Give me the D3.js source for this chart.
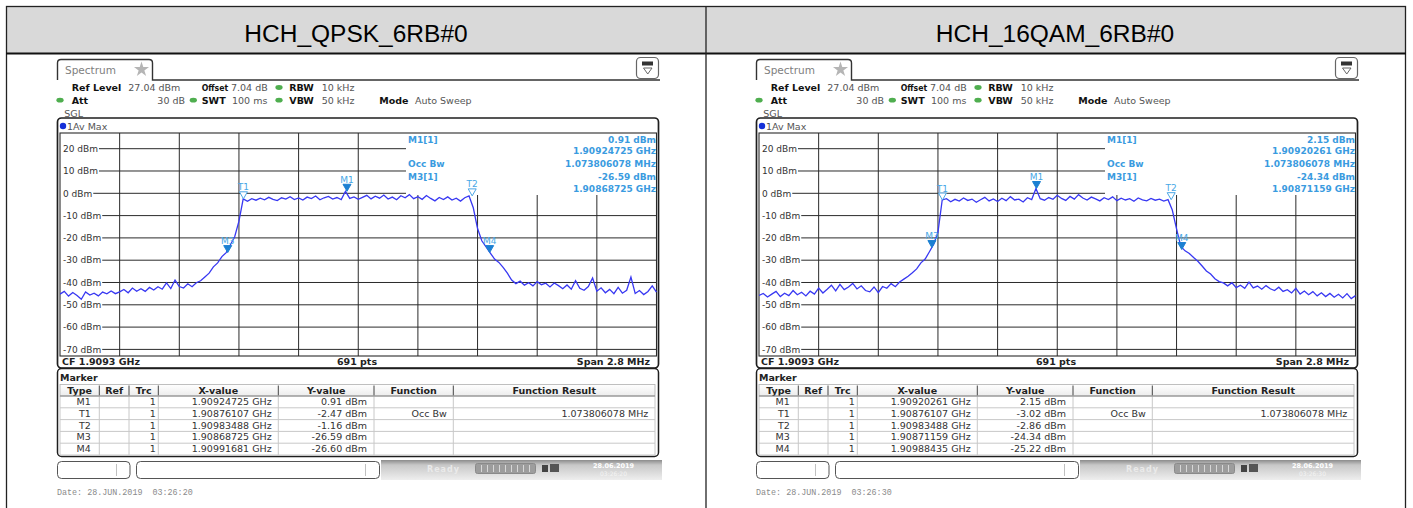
<!DOCTYPE html>
<html>
<head>
<meta charset="utf-8">
<script src="https://cdn.jsdelivr.net/npm/d3@7"></script>
<style>
body { margin: 0; background: #fff; }
svg { display: block; }
</style>
</head>
<body>
<div id="board"></div>
<script>
// sweep settings (same for both screens)
var cfGHz = 1.9093;
var spanMHz = 2.8;
var refLevel = 27.04;
var yTicks = [20, 10, 0, -10, -20, -30, -40, -50, -60, -70];
var panelTitles = ["HCH_QPSK_6RB#0", "HCH_16QAM_6RB#0"];
var sweepOffsetsMHz = d3.range(141).map(function(i) { return -1.4 + i * 0.02; });

// trace 1 (Av Max), one value per sweep point
var qpskTrace = [
  -45.2, -44.0, -46.1, -44.5, -45.8, -47.5, -44.2, -45.6, -44.8, -46.0,
  -44.3, -45.1, -43.8, -45.0, -44.2, -43.1, -44.6, -42.5, -43.9, -42.8,
  -44.0, -42.2, -43.4, -41.9, -43.0, -40.2, -42.7, -38.9, -41.8, -42.5,
  -40.6, -41.9, -40.1, -39.2, -37.5, -35.8, -33.0, -31.2, -28.4, -26.6,
  -23.1, -19.5, -12.5, -2.5, -3.6, -2.4, -3.1, -2.2, -2.9, -1.8,
  -2.7, -3.3, -2.0, -2.6, -1.5, -2.8, -2.1, -3.0, -1.7, -2.4,
  -1.2, -2.9, -2.0, -1.4, -2.6, -1.9, -2.8, 0.9, -2.3, -1.6,
  -2.7, -1.8, -0.9, -2.5, -1.3, -2.2, -0.8, -2.6, -1.7, -2.9,
  -1.1, -2.0, -0.6, -2.4, -1.5, -2.7, -1.0, -2.3, -3.4, -1.9,
  -2.8, -1.6, -3.0, -2.2, -3.5, -2.0, -1.2, -6.5, -15.8, -21.3,
  -24.0, -26.8, -29.5, -31.0, -33.2, -35.8, -38.9, -40.5, -39.4, -41.2,
  -40.1, -41.5, -39.6, -41.0, -40.3, -42.0, -40.2, -41.4, -42.8, -41.1,
  -43.0, -39.2, -42.6, -43.5, -41.8, -38.0, -43.9, -42.4, -44.6, -43.1,
  -45.0, -42.2, -44.8, -43.5, -37.6, -44.9, -43.6, -45.4, -44.0, -41.5, -44.3
];
var qamTrace = [
  -45.8, -44.9, -46.5, -45.2, -44.0, -46.3, -44.8, -45.9, -43.6, -45.5,
  -44.4, -46.0, -43.9, -45.2, -42.5, -44.7, -43.0, -41.2, -43.8, -40.8,
  -43.2, -42.0, -40.4, -42.9, -41.5, -43.6, -44.2, -42.0, -44.5, -41.8,
  -42.6, -40.5, -41.9, -39.8, -38.5, -37.2, -35.6, -33.9, -31.2, -29.5,
  -26.2, -22.8, -17.5, -3.0, -2.4, -3.8, -2.7, -3.5, -2.1, -3.2,
  -2.6, -4.0, -2.9, -1.8, -3.4, -2.5, -3.7, -2.2, -3.3, -1.5,
  -3.0, -2.6, -3.9, -2.0, -2.8, 2.15, -2.4, -3.1, -1.9, -2.7,
  -0.9, -2.3, -3.2, -1.4, -2.6, -0.6, -2.1, -3.0, -1.7, -2.5,
  -3.4, -2.0, -2.8, -1.6, -3.3, -2.2, -3.0, -2.4, -3.6, -2.1,
  -2.9, -3.4, -2.3, -3.1, -2.6, -3.5, -2.86, -7.5, -16.0, -23.8,
  -25.8, -27.0, -28.8, -30.5, -32.6, -34.8, -36.2, -38.3, -39.6, -40.2,
  -41.5, -40.1, -42.3, -41.2, -42.6, -39.8, -42.4, -41.6, -43.0, -41.4,
  -42.8, -43.6, -42.1, -44.0, -43.2, -44.7, -42.6, -45.2, -43.8, -45.5,
  -44.1, -46.0, -44.6, -46.3, -44.9, -46.6, -45.3, -46.9, -45.0, -47.2, -45.9
];

// marker table
var markerNames = ["M1", "T1", "T2", "M3", "M4"];
var qpskMarkerX = [1.90924725, 1.90876107, 1.90983488, 1.90868725, 1.90991681];
var qpskMarkerY = [0.91, -2.47, -1.16, -26.59, -26.60];
var qamMarkerX = [1.90920261, 1.90876107, 1.90983488, 1.90871159, 1.90988435];
var qamMarkerY = [2.15, -3.02, -2.86, -24.34, -25.22];
var occBw = ["1.073806078 MHz", "1.073806078 MHz"];
var dateStamps = ["28.JUN.2019  03:26:20", "28.JUN.2019  03:26:30"];
var timeStamps = ["03:26:20", "03:26:30"];
var columnNames = ["Type", "Ref", "Trc", "X-value", "Y-value", "Function", "Function Result"];

var panels = [
    {title: panelTitles[0], trace: qpskTrace, mx: qpskMarkerX, my: qpskMarkerY, occ: occBw[0], date: dateStamps[0], time: timeStamps[0]},
    {title: panelTitles[1], trace: qamTrace, mx: qamMarkerX, my: qamMarkerY, occ: occBw[1], date: dateStamps[1], time: timeStamps[1]}
];

var UI = "DejaVu Sans, Verdana, sans-serif";
var blueText = "#3a9be0";

var fmtGHz = function(v) { return v.toFixed(8) + " GHz"; };
var fmtDbm = function(v) { return v.toFixed(2) + " dBm"; };

var svg = d3.select("#board").append("svg")
    .attr("width", 1413)
    .attr("height", 508);

var defs = svg.append("defs");
var grad = defs.append("linearGradient").attr("id", "statusGrad")
    .attr("x1", 0).attr("y1", 0).attr("x2", 0).attr("y2", 1);
grad.append("stop").attr("offset", "0%").attr("stop-color", "#8c8c8c");
grad.append("stop").attr("offset", "25%").attr("stop-color", "#c8c8c8");
grad.append("stop").attr("offset", "100%").attr("stop-color", "#eeeeee");
var hgrad = defs.append("linearGradient").attr("id", "headGrad")
    .attr("x1", 0).attr("y1", 0).attr("x2", 0).attr("y2", 1);
hgrad.append("stop").attr("offset", "0%").attr("stop-color", "#ffffff");
hgrad.append("stop").attr("offset", "100%").attr("stop-color", "#ececec");
// clip for the trace, in panel-local coords
defs.append("clipPath").attr("id", "gridClip").append("rect")
    .attr("x", 60).attr("y", 133).attr("width", 597).attr("height", 223);

// outer word-table
svg.append("rect").attr("x", 6.5).attr("y", 6.5).attr("width", 1399).attr("height", 47)
    .attr("fill", "#d9d9d9");
svg.append("rect").attr("x", 6.5).attr("y", 6.5).attr("width", 1399).attr("height", 520)
    .attr("fill", "none").attr("stroke", "#222").attr("stroke-width", 1.3);
svg.append("line").attr("x1", 6).attr("x2", 1406).attr("y1", 53.5).attr("y2", 53.5)
    .attr("stroke", "#111").attr("stroke-width", 2);
svg.append("line").attr("x1", 706).attr("x2", 706).attr("y1", 6).attr("y2", 508)
    .attr("stroke", "#222").attr("stroke-width", 1.3);

var drawPanel = function(root, ox, p) {

    var g = root.append("g").attr("transform", "translate(" + ox + ",0)");

    g.append("text").text(p.title)
        .attr("x", 356).attr("y", 41.5)
        .attr("text-anchor", "middle")
        .style("font-family", "Liberation Sans, Arial, sans-serif")
        .style("font-size", "24.5px")
        .attr("fill", "#000");

    // tab + header line
    g.append("path")
        .attr("d", "M57.5,80 L57.5,63 Q57.5,59.5 61,59.5 L149,59.5 Q152.5,59.5 152.5,63 L152.5,80 L660,80")
        .attr("fill", "none").attr("stroke", "#333").attr("stroke-width", 1.4);
    g.append("text").text("Spectrum").attr("x", 65).attr("y", 73.5)
        .style("font-family", UI).style("font-size", "10.5px").attr("fill", "#808080");
    g.append("path").attr("d", d3.symbol(d3.symbolStar, 70)())
        .attr("transform", "translate(141.5,69.5)").attr("fill", "#b5b5b5");

    g.append("rect").attr("x", 636.5).attr("y", 57.5).attr("width", 22).attr("height", 21).attr("rx", 4)
        .attr("fill", "#fff").attr("stroke", "#666").attr("stroke-width", 1.2);
    g.append("rect").attr("x", 642).attr("y", 61.5).attr("width", 11).attr("height", 4).attr("fill", "#333");
    g.append("path").attr("d", "M643.5,68 L652,68 L647.75,74 Z")
        .attr("fill", "none").attr("stroke", "#666").attr("stroke-width", 1);

    var hdr = [
        {t: "Ref Level", x: 71.7, y: 90.8, b: true},
        {t: "27.04 dBm", x: 128.3, y: 90.8},
        {t: "Offset", x: 201.7, y: 90.8, b: true, fs: 8, w: 26.5},
        {t: "7.04 dB", x: 231, y: 90.8},
        {t: "RBW", x: 289.3, y: 90.8, b: true},
        {t: "10 kHz", x: 321.7, y: 90.8},
        {t: "Att", x: 71.7, y: 103.5, b: true},
        {t: "30 dB", x: 185, y: 103.5, end: true},
        {t: "SWT", x: 201.7, y: 103.5, b: true, w: 24},
        {t: "100 ms", x: 232, y: 103.5},
        {t: "VBW", x: 289.3, y: 103.5, b: true},
        {t: "50 kHz", x: 321.7, y: 103.5},
        {t: "Mode", x: 379.3, y: 103.5, b: true},
        {t: "Auto Sweep", x: 415, y: 103.5},
        {t: "SGL", x: 64.3, y: 116.8}
    ];
    var ht = g.selectAll("text.hdr").data(hdr).enter().append("text")
        .attr("class", "hdr")
        .text(function(d) { return d.t; })
        .attr("x", function(d) { return d.x; })
        .attr("y", function(d) { return d.y; })
        .attr("text-anchor", function(d) { return d.end ? "end" : "start"; })
        .style("font-family", UI)
        .style("font-size", function(d) { return (d.fs || 9.5) + "px"; })
        .style("font-weight", function(d) { return d.b ? "bold" : "normal"; })
        .attr("fill", function(d) { return d.b ? "#111" : "#555"; });
    ht.filter(function(d) { return d.w; })
        .attr("textLength", function(d) { return d.w; })
        .attr("lengthAdjust", "spacingAndGlyphs");

    var dots = [[279, 87.5], [60, 100.2], [193.3, 100.2], [279, 100.2]];
    g.selectAll("ellipse.led").data(dots).enter().append("ellipse")
        .attr("cx", function(d) { return d[0]; })
        .attr("cy", function(d) { return d[1]; })
        .attr("rx", 3.6).attr("ry", 2.4).attr("fill", "#4fae4f");

    // scales
    var x = d3.scaleLinear()
        .domain([cfGHz - spanMHz / 2000, cfGHz + spanMHz / 2000])
        .range([60, 656.5]);
    var y = d3.scaleLinear()
        .domain([refLevel - 100, refLevel])
        .range([356, 133]);

    // trace label row
    g.append("circle").attr("cx", 63).attr("cy", 126).attr("r", 3.2).attr("fill", "#1530d8");
    g.append("text").text("1Av Max").attr("x", 67).attr("y", 129.5)
        .style("font-family", UI).style("font-size", "9.5px").attr("fill", "#555");

    var grid = "#2b2b2b";
    var boxLeft = 406, boxBottom = 195;

    // vertical grid
    var vx = d3.range(1, 10).map(function(k) { return x.domain()[0] + k * spanMHz / 10000; });
    g.selectAll("line.vg").data(vx).enter().append("line")
        .attr("x1", function(d) { return x(d); })
        .attr("x2", function(d) { return x(d); })
        .attr("y1", function(d) { return x(d) > boxLeft ? boxBottom : y(refLevel); })
        .attr("y2", y(refLevel - 100))
        .attr("stroke", grid).attr("stroke-width", 1);

    // horizontal grid + labels
    yTicks.forEach(function(t) {
        var label = g.append("text").text(t + " dBm")
            .attr("x", 63).attr("y", y(t) + 3.3)
            .style("font-family", UI).style("font-size", "9px").attr("fill", "#333");
        var w = label.node().getComputedTextLength();
        g.append("line")
            .attr("x1", 63 + w + 1).attr("x2", y(t) < boxBottom ? boxLeft : x.range()[1])
            .attr("y1", y(t)).attr("y2", y(t))
            .attr("stroke", grid).attr("stroke-width", 1);
    });
    g.append("rect").attr("x", 60).attr("y", y(refLevel))
        .attr("width", x.range()[1] - 60).attr("height", y(refLevel - 100) - y(refLevel))
        .attr("fill", "none").attr("stroke", grid).attr("stroke-width", 1.1);

    // trace
    var pts = sweepOffsetsMHz.map(function(o, i) { return [cfGHz + o / 1000, p.trace[i]]; });
    g.append("g").attr("clip-path", "url(#gridClip)")
        .append("path").datum(pts)
        .attr("d", d3.line()
            .x(function(d) { return x(d[0]); })
            .y(function(d) { return y(d[1]); }))
        .attr("fill", "none").attr("stroke", "#3838f2").attr("stroke-width", 1.3);

    // markers
    var mk = markerNames.map(function(n, i) { return {name: n, f: p.mx[i], v: p.my[i]}; });
    var mg = g.selectAll("g.mk").data(mk).enter().append("g")
        .attr("transform", function(d) { return "translate(" + x(d.f) + "," + y(d.v) + ")"; });
    mg.append("path").attr("d", "M-4,-7 L4,-7 L0,0 Z")
        .attr("fill", function(d) { return d.name[0] === "M" ? "#1c80d2" : "#fff"; })
        .attr("stroke", function(d) { return d.name[0] === "M" ? "#1c80d2" : "#4aa6e6"; })
        .attr("stroke-width", 1);
    mg.append("text").text(function(d) { return d.name; })
        .attr("x", 0).attr("y", -8.5).attr("text-anchor", "middle")
        .style("font-family", UI).style("font-size", "9px").attr("fill", "#47a7e6");

    // marker info box
    var info = [
        {l: "M1[1]", r: fmtDbm(p.my[0]), y: 142.5},
        {l: "", r: fmtGHz(p.mx[0]), y: 154},
        {l: "Occ Bw", r: p.occ, y: 167},
        {l: "M3[1]", r: fmtDbm(p.my[3]), y: 179.6},
        {l: "", r: fmtGHz(p.mx[3]), y: 191.5}
    ];
    g.selectAll("text.il").data(info).enter().append("text")
        .text(function(d) { return d.l; })
        .attr("x", 408).attr("y", function(d) { return d.y; })
        .style("font-family", UI).style("font-size", "9px").style("font-weight", "bold")
        .attr("fill", blueText);
    g.selectAll("text.ir").data(info).enter().append("text")
        .text(function(d) { return d.r; })
        .attr("x", 656).attr("y", function(d) { return d.y; })
        .attr("text-anchor", "end")
        .style("font-family", UI).style("font-size", "9px").style("font-weight", "bold")
        .attr("fill", blueText);

    // footer row
    var foot = [
        {t: "CF " + cfGHz + " GHz", x: 62, a: "start"},
        {t: "691 pts", x: 357, a: "middle"},
        {t: "Span " + spanMHz + " MHz", x: 650, a: "end"}
    ];
    g.selectAll("text.ft").data(foot).enter().append("text")
        .text(function(d) { return d.t; })
        .attr("x", function(d) { return d.x; }).attr("y", 365)
        .attr("text-anchor", function(d) { return d.a; })
        .style("font-family", UI).style("font-size", "9.5px").style("font-weight", "bold")
        .attr("fill", "#222");

    // frames
    g.append("rect").attr("x", 57.5).attr("y", 118).attr("width", 601).attr("height", 250).attr("rx", 4)
        .attr("fill", "none").attr("stroke", "#1e1e1e").attr("stroke-width", 1.7);
    g.append("rect").attr("x", 57.5).attr("y", 368.5).attr("width", 601).attr("height", 88).attr("rx", 4)
        .attr("fill", "none").attr("stroke", "#1e1e1e").attr("stroke-width", 1.5);
    g.append("text").text("Marker").attr("x", 60).attr("y", 381)
        .style("font-family", UI).style("font-size", "9.5px").style("font-weight", "bold").attr("fill", "#222");

    // marker table
    var cols = [60, 99.3, 129, 158.3, 278.3, 374, 453.3, 655];
    var pad = [8.5, 6, 2.5, 6.6, 7, 6.6, 6.7];
    var rowTop = 396, rowH = 11.8;
    g.append("rect").attr("x", cols[0]).attr("y", 384.5).attr("width", cols[7] - cols[0]).attr("height", 11.5)
        .attr("fill", "url(#headGrad)").attr("stroke", "#b0b0b0").attr("stroke-width", 0.8);
    g.selectAll("text.ch").data(columnNames).enter().append("text")
        .text(function(d) { return d; })
        .attr("x", function(d, i) { return (cols[i] + cols[i + 1]) / 2; })
        .attr("y", 393.5).attr("text-anchor", "middle")
        .style("font-family", UI).style("font-size", "9.5px").style("font-weight", "bold").attr("fill", "#222");
    g.selectAll("line.cs").data(cols.slice(1, 7)).enter().append("line")
        .attr("x1", function(d) { return d; }).attr("x2", function(d) { return d; })
        .attr("y1", 385.5).attr("y2", 395.5).attr("stroke", "#444").attr("stroke-width", 1);
    g.selectAll("line.cv").data(cols).enter().append("line")
        .attr("x1", function(d) { return d; }).attr("x2", function(d) { return d; })
        .attr("y1", rowTop).attr("y2", rowTop + rowH * 5)
        .attr("stroke", "#c8c8c8").attr("stroke-width", 1);
    g.selectAll("line.rh").data(d3.range(6)).enter().append("line")
        .attr("x1", cols[0]).attr("x2", cols[7])
        .attr("y1", function(d) { return rowTop + d * rowH; })
        .attr("y2", function(d) { return rowTop + d * rowH; })
        .attr("stroke", function(d) { return d === 0 ? "#888" : "#c8c8c8"; }).attr("stroke-width", 1);

    var rows = mk.map(function(d) {
        return [d.name, "", "1", fmtGHz(d.f), fmtDbm(d.v),
            d.name === "T1" ? "Occ Bw" : "", d.name === "T1" ? p.occ : ""];
    });
    rows.forEach(function(r, ri) {
        r.forEach(function(c, ci) {
            if (!c) return;
            g.append("text").text(c)
                .attr("x", cols[ci + 1] - pad[ci])
                .attr("y", rowTop + ri * rowH + 9)
                .attr("text-anchor", "end")
                .style("font-family", UI).style("font-size", "9.5px").attr("fill", "#333");
        });
    });

    // status bar
    g.append("rect").attr("x", 57.5).attr("y", 461.5).attr("width", 72.5).attr("height", 17).attr("rx", 4)
        .attr("fill", "#fff").attr("stroke", "#555");
    g.append("line").attr("x1", 116.5).attr("x2", 116.5).attr("y1", 464).attr("y2", 476).attr("stroke", "#c0c0c0");
    g.append("rect").attr("x", 136.5).attr("y", 461.5).attr("width", 243).attr("height", 17).attr("rx", 4)
        .attr("fill", "#fff").attr("stroke", "#555");
    g.append("line").attr("x1", 365.5).attr("x2", 365.5).attr("y1", 464).attr("y2", 476).attr("stroke", "#c0c0c0");
    g.append("rect").attr("x", 381).attr("y", 460).attr("width", 281).attr("height", 20)
        .attr("fill", "url(#statusGrad)");
    g.append("text").text("Ready").attr("x", 427).attr("y", 472)
        .style("font-family", UI).style("font-size", "8px").style("font-weight", "bold")
        .style("letter-spacing", "1px").attr("fill", "#eaeaea");
    g.append("rect").attr("x", 475.5).attr("y", 463.5).attr("width", 60).attr("height", 10).attr("rx", 2)
        .attr("fill", "#9d9d9d").attr("stroke", "#8a8a8a");
    g.selectAll("line.pb").data(d3.range(1, 10)).enter().append("line")
        .attr("x1", function(d) { return 475.5 + d * 6; }).attr("x2", function(d) { return 475.5 + d * 6; })
        .attr("y1", 465).attr("y2", 472).attr("stroke", "#d8d8d8");
    g.append("rect").attr("x", 542).attr("y", 465).attr("width", 6).attr("height", 7).attr("fill", "#444");
    g.append("rect").attr("x", 550).attr("y", 464).attr("width", 9).attr("height", 8).attr("fill", "#555");
    g.append("text").text("28.06.2019").attr("x", 593).attr("y", 467.5)
        .style("font-family", UI).style("font-size", "6.5px").style("font-weight", "bold").attr("fill", "#fff");
    g.append("text").text(p.time).attr("x", 600).attr("y", 475.5)
        .style("font-family", UI).style("font-size", "6px").attr("fill", "#f4f4f4");

    g.append("text").text("Date: " + p.date).attr("x", 57).attr("y", 495)
        .style("white-space", "pre")
        .style("font-family", "Liberation Mono, DejaVu Sans Mono, monospace")
        .style("font-size", "8.4px").attr("fill", "#8a8a8a");
};

drawPanel(svg, 0, panels[0]);
drawPanel(svg, 699, panels[1]);
</script>
</body>
</html>
